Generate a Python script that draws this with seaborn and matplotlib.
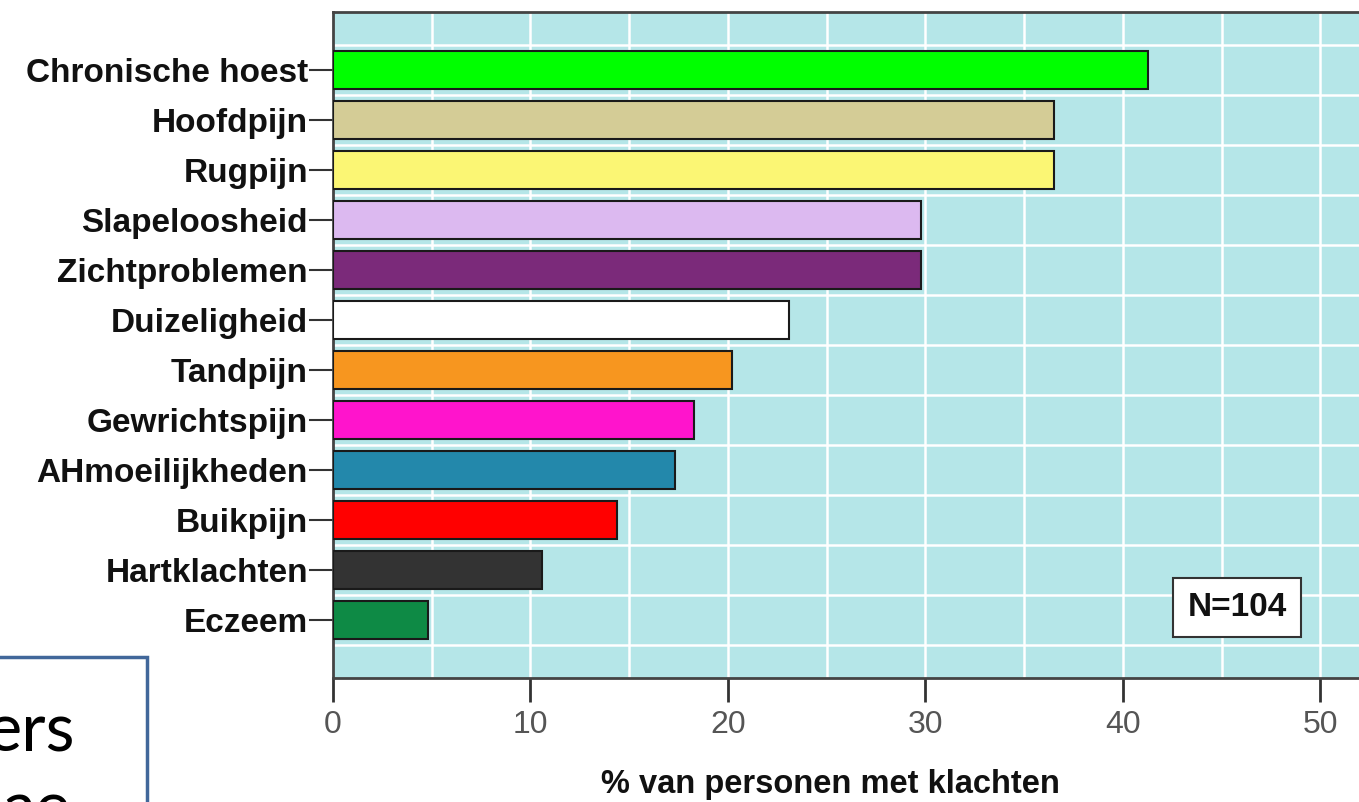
import matplotlib
matplotlib.use("Agg")
import matplotlib.pyplot as plt
import seaborn as sns
import pandas as pd
from matplotlib.patches import Rectangle

categories = ["Chronische hoest", "Hoofdpijn", "Rugpijn", "Slapeloosheid", "Zichtproblemen",
              "Duizeligheid", "Tandpijn", "Gewrichtspijn", "AHmoeilijkheden", "Buikpijn",
              "Hartklachten", "Eczeem"]
values = [41.3, 36.5, 36.5, 29.8, 29.8, 23.1, 20.2, 18.3, 17.3, 14.4, 10.6, 4.8]
colors = ["#00ff00", "#d4cc96", "#fbf674", "#dcb9f0", "#7b2a7a", "#ffffff", "#f7961f",
          "#ff14cc", "#2388ab", "#ff0000", "#333333", "#0e8a45"]
xticks = [0, 10, 20, 30, 40, 50]
xlabel = "% van personen met klachten"
note = "N=104"

sns.set_theme(style="white")
plt.rcParams['font.family'] = ['Liberation Sans', 'DejaVu Sans']

df = pd.DataFrame({"cat": categories, "val": values})

fig = plt.figure(figsize=(13.59, 8.02), dpi=100)
ax = fig.add_axes([333/1359, 1 - 678/802, 1 - 333/1359 + 0.002, (678 - 12)/802])
ax.set_facecolor("#b5e6e8")

sns.barplot(data=df, y="cat", x="val", hue="cat", palette=colors, legend=False,
            saturation=1, orient="h", width=0.76, edgecolor="#1a1a1a", linewidth=1.5,
            ax=ax, zorder=3)

ax.set_xlim(0, 52.1)
ax.set_ylim(12.16, -1.16)

# grid
for x in range(5, 55, 5):
    ax.axvline(x, color="white", lw=1.8, zorder=1)
for i in range(len(categories) + 1):
    ax.axhline(i - 0.5, color="white", lw=1.8, zorder=1)

ax.set_xticks(xticks)
ax.set_xticklabels([str(t) for t in xticks], fontsize=23, color="#555555")
ax.set_yticks(range(len(categories)))
ax.set_yticklabels(categories, fontsize=24, fontweight="bold", color="#111111")
ax.tick_params(axis="x", direction="out", length=17, width=2, color="#333333", pad=6, bottom=True)
ax.tick_params(axis="y", direction="out", length=17, width=1.5, color="#333333", pad=1, left=True)

ax.set_xlabel(xlabel, fontsize=23.5, fontweight="bold", color="#111111")
ax.xaxis.set_label_coords((829 - 333) / 1026, -(785 - 678) / 666)
ax.xaxis.label.set_va("center")
ax.set_ylabel("")

for s in ["left", "bottom", "top"]:
    ax.spines[s].set_visible(True)
    ax.spines[s].set_color("#444444")
    ax.spines[s].set_linewidth(2)
ax.spines["right"].set_visible(False)

ax.text((1235 - 333) / 19.7, (607 - 70) / 50, note, fontsize=24, fontweight="bold",
        color="#111111", ha="center", va="center", zorder=5,
        bbox=dict(boxstyle="square,pad=0.42", facecolor="white", edgecolor="#333333",
                  linewidth=1.5))

# overlay box from slide
fig.patches.append(Rectangle((-10/1359, -20/802), 157/1359, (802 - 657 + 20)/802,
                             transform=fig.transFigure, facecolor="white",
                             edgecolor="#41679a", linewidth=2.5, zorder=10))
fig.text(-0.010, 1 - 752/802, "ers", fontsize=48, color="black", ha="left", va="baseline",
         family=["Lato", "DejaVu Sans"], zorder=11)
fig.text(0.002, 1 - 830/802, "ae", fontsize=48, color="black", ha="left", va="baseline",
         family=["Lato", "DejaVu Sans"], zorder=11)

fig.savefig("out.png", dpi=100)
